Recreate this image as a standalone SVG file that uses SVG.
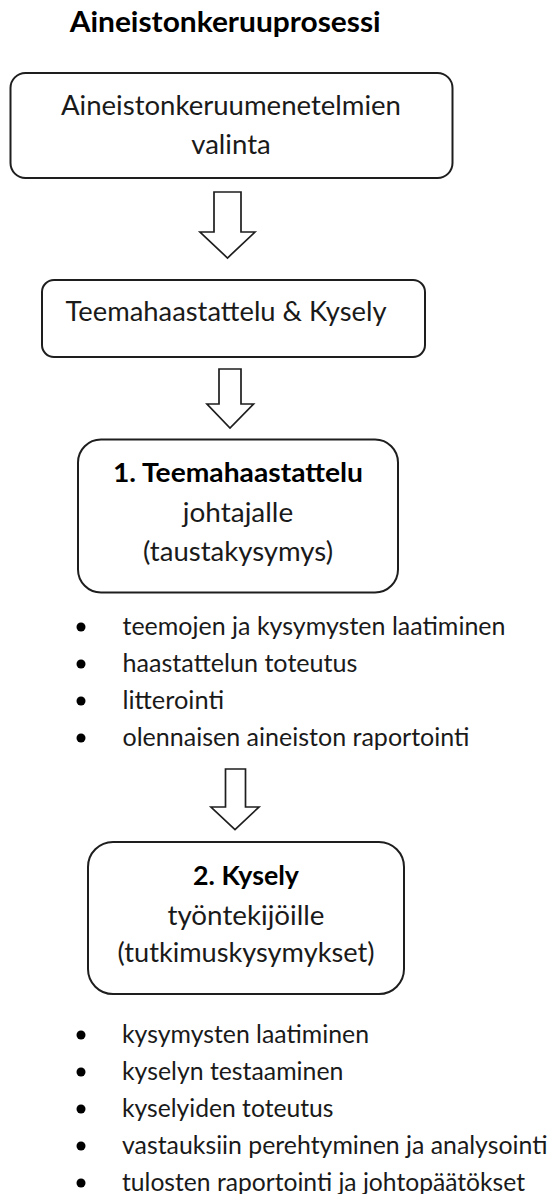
<svg xmlns="http://www.w3.org/2000/svg" width="552" height="1194" viewBox="0 0 552 1194">
<style>
.box{fill:#fff;stroke:#1e1e1e;stroke-width:2}
.arr{fill:#fff;stroke:#1e1e1e;stroke-width:1.7;stroke-linejoin:miter}
.t{font-family:Lato,"Open Sans","Liberation Sans",sans-serif;fill:#1a1a1a}
.s{font-size:24.4px}
.m{font-size:26.8px}
.c{text-anchor:middle}
.b{font-weight:bold;fill:#000}
.dot{fill:#000}
</style>
<rect width="552" height="1194" fill="#fff"/>
<text id="title" class="t b" x="69.7" y="32" font-size="29.3" textLength="311" lengthAdjust="spacingAndGlyphs">Aineistonkeruuprosessi</text>

<g id="connectors">
<polygon class="arr" points="214,192 241,192 241,232 255,232 227.5,258 200,232 214,232"/>
<polygon class="arr" points="219,369 241,369 241,404 253.5,404 230,428 207,404 219,404"/>
<polygon class="arr" points="225.5,769 245.5,769 245.5,807 259,807 235,829.5 211,807 225.5,807"/>
</g>

<g id="node1">
<rect class="box" x="10.5" y="73" width="442" height="105" rx="15"/>
<text class="t m c" x="231" y="115" textLength="340" lengthAdjust="spacingAndGlyphs">Aineistonkeruumenetelmien</text>
<text class="t m c" x="231" y="154" textLength="79.5" lengthAdjust="spacingAndGlyphs">valinta</text>
</g>

<g id="node2">
<rect class="box" x="42" y="280" width="383" height="77" rx="12"/>
<text class="t m" x="65.5" y="321" textLength="321" lengthAdjust="spacingAndGlyphs">Teemahaastattelu &amp; Kysely</text>
</g>

<g id="node3">
<rect class="box" x="78" y="439.5" width="320" height="153" rx="23"/>
<text class="t m c b" x="238" y="482" textLength="250" lengthAdjust="spacingAndGlyphs">1. Teemahaastattelu</text>
<text class="t m c" x="238" y="522" textLength="110.5" lengthAdjust="spacingAndGlyphs">johtajalle</text>
<text class="t m c" x="238" y="561" textLength="190" lengthAdjust="spacingAndGlyphs">(taustakysymys)</text>
</g>

<g id="list1">
<circle class="dot" cx="81" cy="627" r="4.5"/>
<circle class="dot" cx="81" cy="664" r="4.5"/>
<circle class="dot" cx="81" cy="701" r="4.5"/>
<circle class="dot" cx="81" cy="738" r="4.5"/>
<text class="t s" x="122.5" y="634.5" textLength="383" lengthAdjust="spacingAndGlyphs">teemojen ja kysymysten laatiminen</text>
<text class="t s" x="122.5" y="671.5" textLength="235" lengthAdjust="spacingAndGlyphs">haastattelun toteutus</text>
<text class="t s" x="122.5" y="708.5" textLength="101.6" lengthAdjust="spacingAndGlyphs">litterointi</text>
<text class="t s" x="122.5" y="745.5" textLength="347" lengthAdjust="spacingAndGlyphs">olennaisen aineiston raportointi</text>
</g>

<g id="node4">
<rect class="box" x="88" y="842" width="316" height="152" rx="25"/>
<text class="t m c b" x="246" y="885" textLength="106" lengthAdjust="spacingAndGlyphs">2. Kysely</text>
<text class="t m c" x="246" y="925" textLength="157" lengthAdjust="spacingAndGlyphs">työntekijöille</text>
<text class="t m c" x="246" y="962" textLength="257" lengthAdjust="spacingAndGlyphs">(tutkimuskysymykset)</text>
</g>

<g id="list2">
<circle class="dot" cx="81" cy="1035" r="4.5"/>
<circle class="dot" cx="81" cy="1072" r="4.5"/>
<circle class="dot" cx="81" cy="1109" r="4.5"/>
<circle class="dot" cx="81" cy="1146" r="4.5"/>
<circle class="dot" cx="81" cy="1183" r="4.5"/>
<text class="t s" x="122" y="1042.5" textLength="247" lengthAdjust="spacingAndGlyphs">kysymysten laatiminen</text>
<text class="t s" x="122" y="1079.5" textLength="221.4" lengthAdjust="spacingAndGlyphs">kyselyn testaaminen</text>
<text class="t s" x="122" y="1116.5" textLength="211.5" lengthAdjust="spacingAndGlyphs">kyselyiden toteutus</text>
<text class="t s" x="122" y="1153.5" textLength="425.5" lengthAdjust="spacingAndGlyphs">vastauksiin perehtyminen ja analysointi</text>
<text class="t s" x="122" y="1190.5" textLength="403" lengthAdjust="spacingAndGlyphs">tulosten raportointi ja johtopäätökset</text>
</g>
</svg>
